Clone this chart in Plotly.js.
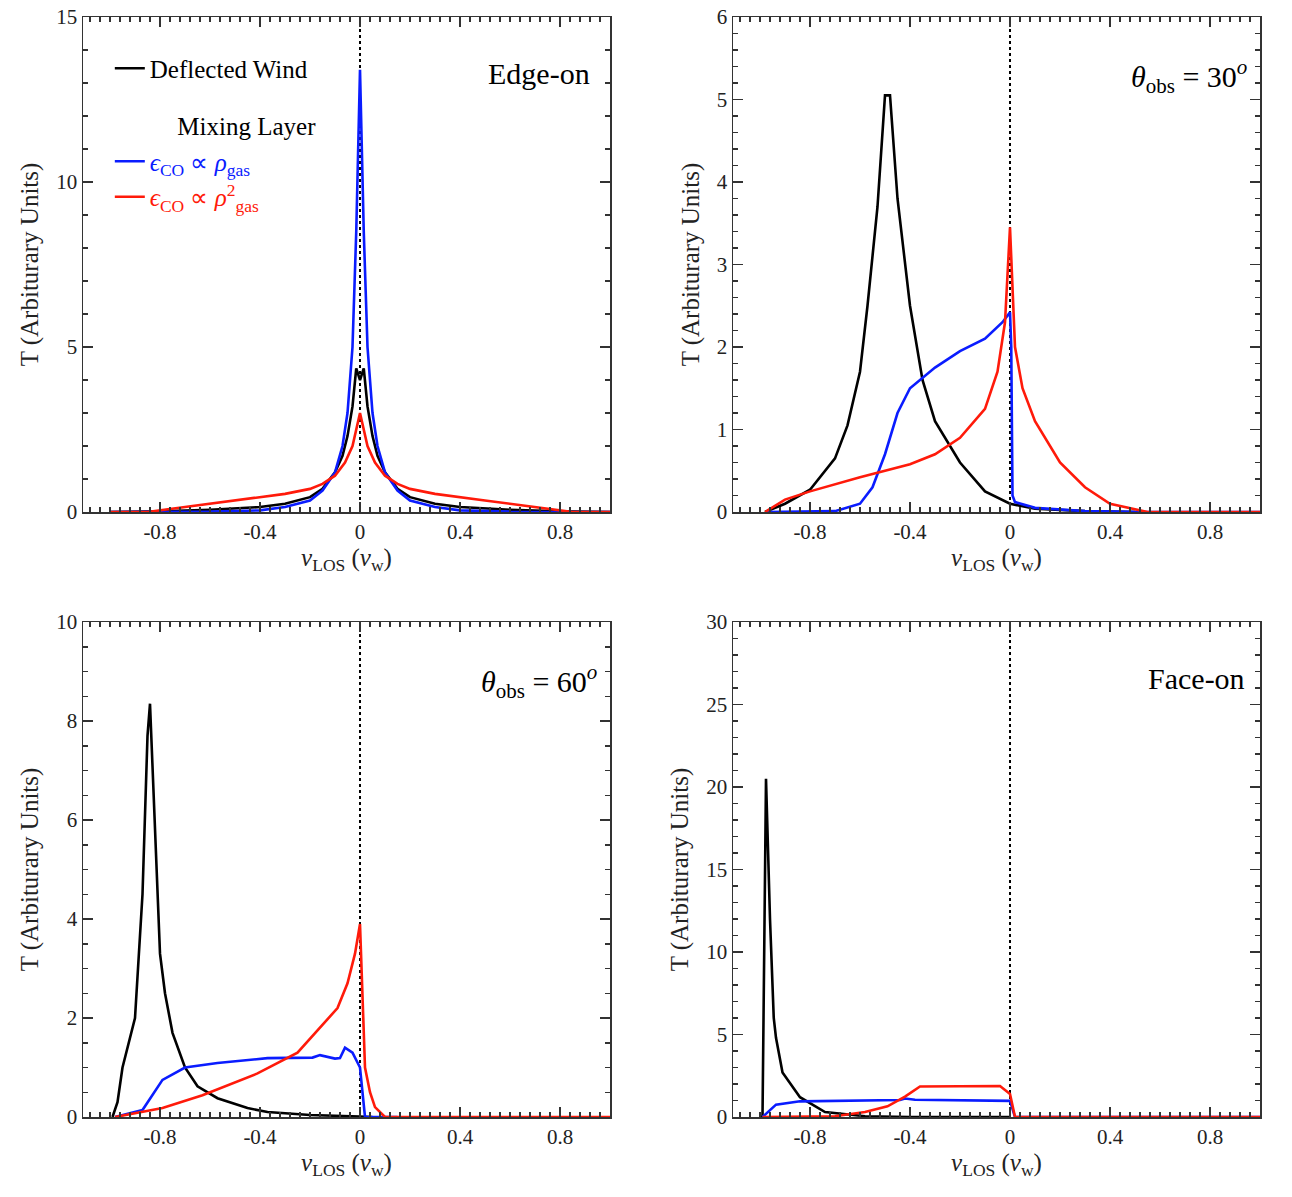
<!DOCTYPE html>
<html>
<head>
<meta charset="utf-8">
<script src="https://cdn.plot.ly/plotly-3.0.1.min.js"></script>
<style>body{margin:0;background:#fff}#chart{width:1292px;height:1197px}</style>
</head>
<body>
<div id="chart"></div>
<script>
// ─── Data ───

const xTickVals = [-0.8, -0.4, 0, 0.4, 0.8];
const xTickText = ["-0.8", "-0.4", "0", "0.4", "0.8"];

// Edge-on
const edgeWindX = [-1.0, -0.8, -0.6, -0.4, -0.3, -0.2, -0.15, -0.1, -0.07, -0.05, -0.03, -0.015, 0, 0.015, 0.03, 0.05, 0.07, 0.1, 0.15, 0.2, 0.3, 0.4, 0.6, 0.8, 1.0];
const edgeWindY = [0, 0.02, 0.07, 0.15, 0.25, 0.45, 0.7, 1.2, 1.7, 2.3, 3.2, 4.35, 4.0, 4.35, 3.2, 2.3, 1.7, 1.2, 0.7, 0.45, 0.25, 0.15, 0.07, 0.02, 0];
const edgeLinX = [-1.0, -0.6, -0.4, -0.3, -0.2, -0.15, -0.1, -0.07, -0.05, -0.03, -0.015, 0, 0.015, 0.03, 0.05, 0.07, 0.1, 0.15, 0.2, 0.3, 0.4, 0.6, 1.0];
const edgeLinY = [0, 0.01, 0.05, 0.15, 0.35, 0.65, 1.2, 2.0, 3.0, 5.0, 8.5, 13.4, 8.5, 5.0, 3.0, 2.0, 1.2, 0.65, 0.35, 0.15, 0.05, 0.01, 0];
const edgeSqX = [-1.0, -0.85, -0.7, -0.5, -0.3, -0.2, -0.15, -0.1, -0.06, -0.03, 0, 0.03, 0.06, 0.1, 0.15, 0.2, 0.3, 0.5, 0.7, 0.85, 1.0];
const edgeSqY = [0, 0.0, 0.15, 0.35, 0.55, 0.7, 0.85, 1.1, 1.5, 2.0, 3.0, 2.0, 1.5, 1.1, 0.85, 0.7, 0.55, 0.35, 0.15, 0.0, 0];

// theta_obs = 30
const t30WindX = [-0.98, -0.9, -0.8, -0.7, -0.65, -0.6, -0.57, -0.53, -0.5, -0.48, -0.45, -0.4, -0.35, -0.3, -0.2, -0.1, 0, 0.1, 0.3, 0.5];
const t30WindY = [0, 0.1, 0.27, 0.65, 1.05, 1.7, 2.5, 3.7, 5.05, 5.05, 3.8, 2.5, 1.6, 1.1, 0.6, 0.25, 0.1, 0.04, 0.01, 0];
const t30LinX = [-0.98, -0.7, -0.6, -0.55, -0.5, -0.45, -0.4, -0.3, -0.2, -0.1, -0.03, 0, 0.005, 0.01, 0.02, 0.1, 0.3, 0.55, 1.0];
const t30LinY = [0, 0.01, 0.1, 0.3, 0.7, 1.2, 1.5, 1.75, 1.95, 2.1, 2.3, 2.42, 2.0, 0.2, 0.12, 0.05, 0.01, 0, 0];
const t30SqX = [-0.98, -0.9, -0.8, -0.6, -0.4, -0.3, -0.2, -0.1, -0.05, -0.02, 0, 0.02, 0.05, 0.1, 0.2, 0.3, 0.4, 0.55, 1.0];
const t30SqY = [0, 0.15, 0.25, 0.42, 0.58, 0.7, 0.9, 1.25, 1.7, 2.3, 3.45, 2.0, 1.5, 1.1, 0.6, 0.3, 0.1, 0, 0];

// theta_obs = 60
const t60WindX = [-0.99, -0.97, -0.95, -0.9, -0.87, -0.85, -0.84, -0.82, -0.8, -0.78, -0.75, -0.7, -0.65, -0.57, -0.45, -0.37, -0.2, 0, 0.05];
const t60WindY = [0, 0.3, 1.0, 2.0, 4.5, 7.7, 8.35, 6.0, 3.3, 2.5, 1.7, 1.0, 0.62, 0.38, 0.18, 0.1, 0.04, 0.01, 0];
const t60LinX = [-0.98, -0.87, -0.79, -0.7, -0.57, -0.37, -0.19, -0.16, -0.1, -0.08, -0.06, -0.03, 0, 0.02, 0.15];
const t60LinY = [0, 0.14, 0.75, 1.0, 1.09, 1.19, 1.2, 1.25, 1.18, 1.19, 1.4, 1.3, 1.0, 0, 0];
const t60SqX = [-0.98, -0.79, -0.63, -0.41, -0.25, -0.09, -0.05, -0.02, 0, 0.01, 0.02, 0.04, 0.06, 0.1, 1.0];
const t60SqY = [0, 0.18, 0.44, 0.88, 1.3, 2.2, 2.7, 3.3, 3.9, 2.5, 1.0, 0.5, 0.2, 0, 0];

// Face-on
const faceWindX = [-1.0, -0.99, -0.976, -0.96, -0.945, -0.936, -0.91, -0.84, -0.74, -0.58, -0.4, 0];
const faceWindY = [0, 0, 20.5, 12.0, 6.0, 4.8, 2.7, 1.2, 0.3, 0.05, 0, 0];
const faceLinX = [-0.99, -0.936, -0.84, -0.6, -0.44, -0.42, -0.38, 0, 0.02, 1.0];
const faceLinY = [0, 0.75, 0.95, 1.0, 1.03, 1.12, 1.05, 0.98, 0, 0];
const faceSqX = [-0.99, -0.7, -0.58, -0.49, -0.42, -0.36, -0.04, 0, 0.02, 1.0];
const faceSqY = [0, 0.05, 0.3, 0.65, 1.24, 1.85, 1.88, 1.4, 0, 0];

const zeroLineX = [0, 0];

// ─── Layout helpers ───

const FONT = "Liberation Serif, Times New Roman, serif";
const BLUE = "#0a1cff";
const RED = "#ff1a0a";
const INK = "#222";

const xAxis = (domain, anchor) => ({
  domain, anchor, range: [-1.108, 1.0],
  tickvals: xTickVals, ticktext: xTickText,
  ticks: "inside", ticklen: 10, tickwidth: 1.5, tickcolor: "#333",
  minor: { dtick: 0.04, ticks: "inside", ticklen: 5, tickwidth: 1.5, tickcolor: "#333" },
  showline: true, mirror: "allticks", linecolor: "#333", linewidth: 1.5,
  showgrid: false, zeroline: false,
  tickfont: { size: 21, family: FONT, color: INK },
  title: { text: "<i>v</i><sub>LOS</sub> (<i>v</i><sub>w</sub>)", font: { size: 25, family: FONT, color: INK }, standoff: 2 },
});

const yAxis = (domain, anchor, max, dtick, minor) => ({
  domain, anchor, range: [0, max], dtick,
  ticks: "inside", ticklen: 10, tickwidth: 1.5, tickcolor: "#333",
  minor: { dtick: minor, ticks: "inside", ticklen: 5, tickwidth: 1.5, tickcolor: "#333" },
  showline: true, mirror: "allticks", linecolor: "#333", linewidth: 1.5,
  showgrid: false, zeroline: false,
  tickfont: { size: 21, family: FONT, color: INK },
  title: { text: "T (Arbiturary Units)", font: { size: 25, family: FONT, color: INK }, standoff: 10 },
});

const line = (x, y, color, xa, ya, extra) => Object.assign({
  x, y, xaxis: xa, yaxis: ya, mode: "lines", type: "scatter",
  line: { color, width: 2.6 }, showlegend: false, hoverinfo: "skip",
}, extra || {});

const panels = [
  ["x", "y", edgeWindX, edgeWindY, edgeLinX, edgeLinY, edgeSqX, edgeSqY, 15],
  ["x2", "y2", t30WindX, t30WindY, t30LinX, t30LinY, t30SqX, t30SqY, 6],
  ["x3", "y3", t60WindX, t60WindY, t60LinX, t60LinY, t60SqX, t60SqY, 10],
  ["x4", "y4", faceWindX, faceWindY, faceLinX, faceLinY, faceSqX, faceSqY, 30],
];

const traces = [];
panels.forEach(([xa, ya, wx, wy, lx, ly, sx, sy, ymax], i) => {
  const first = i === 0;
  traces.push(line(zeroLineX, [0, ymax], "#000", xa, ya, { line: { color: "#000", width: 2, dash: "dot" } }));
  traces.push(line(wx, wy, "#000", xa, ya, first ? { showlegend: true, name: "Deflected Wind", legendgroup: "a" } : {}));
  traces.push(line(lx, ly, BLUE, xa, ya, first ? {
    showlegend: true, legendgroup: "b", legendgrouptitle: { text: "          Mixing Layer", font: { size: 25, family: FONT, color: "#000" } },
    name: `<span style="color:${BLUE}"><i>ϵ</i><sub>CO</sub> ∝ <i>ρ</i><sub>gas</sub></span>`,
  } : {}));
  traces.push(line(sx, sy, RED, xa, ya, first ? {
    showlegend: true, legendgroup: "b",
    name: `<span style="color:${RED}"><i>ϵ</i><sub>CO</sub> ∝ <i>ρ</i><sup>2</sup><sub>gas</sub></span>`,
  } : {}));
});

const dxL = [83 / 1292, 610 / 1292];
const dxR = [733 / 1292, 1260 / 1292];
const dyT = [1 - 512 / 1197, 1 - 17 / 1197];
const dyB = [1 - 1117 / 1197, 1 - 622 / 1197];

const label = (text, xref, yref, x, y) => ({
  text, xref, yref, x, y, xanchor: "right", yanchor: "middle", showarrow: false,
  font: { size: 30, family: FONT, color: "#000" },
});

const layout = {
  width: 1292, height: 1197,
  margin: { l: 0, r: 0, t: 0, b: 0 },
  paper_bgcolor: "#fff", plot_bgcolor: "#fff",
  font: { family: FONT, color: "#000" },
  xaxis: xAxis(dxL, "y"), yaxis: yAxis(dyT, "x", 15, 5, 1),
  xaxis2: xAxis(dxR, "y2"), yaxis2: yAxis(dyT, "x2", 6, 1, 0.2),
  xaxis3: xAxis(dxL, "y3"), yaxis3: yAxis(dyB, "x3", 10, 2, 0.5),
  xaxis4: xAxis(dxR, "y4"), yaxis4: yAxis(dyB, "x4", 30, 5, 1),
  showlegend: true,
  legend: {
    x: 0.085, y: 0.962, xanchor: "left", yanchor: "top",
    bgcolor: "rgba(0,0,0,0)", traceorder: "grouped", tracegroupgap: 22,
    font: { size: 25, family: FONT, color: "#000" },
  },
  annotations: [
    label("Edge-on", "x domain", "y domain", 0.965, 0.885),
    label("<i>θ</i><sub>obs</sub> = 30<sup><i>o</i></sup>", "x2 domain", "y2 domain", 0.98, 0.88),
    label("<i>θ</i><sub>obs</sub> = 60<sup><i>o</i></sup>", "x3 domain", "y3 domain", 0.98, 0.88),
    label("Face-on", "x4 domain", "y4 domain", 0.975, 0.885),
  ],
};

Plotly.newPlot("chart", traces, layout, { displayModeBar: false, staticPlot: true });
</script>
</body>
</html>
